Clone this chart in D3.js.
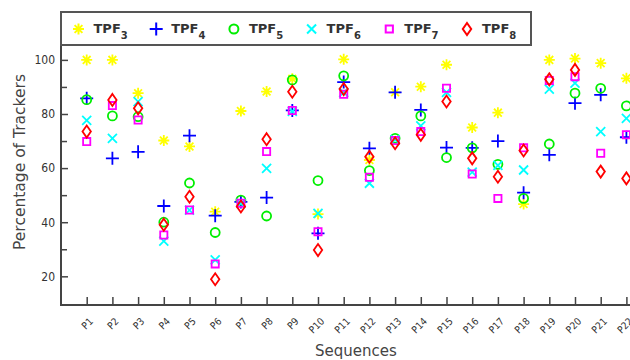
<!DOCTYPE html>
<html><head><meta charset="utf-8">
<script src="https://cdn.jsdelivr.net/npm/d3@7"></script>
<style>body{margin:0;background:#fff}svg{display:block}</style>
</head><body><svg id="c" width="630" height="360"></svg>
<script>
const categories = ["P1","P2","P3","P4","P5","P6","P7","P8","P9","P10","P11","P12","P13","P14","P15","P16","P17","P18","P19","P20","P21","P22"];
const seriesNames = ["3","4","5","6","7","8"];
const TPF3 = [100, 100, 87.7, 70.2, 68.0, 43.9, 81.1, 88.3, 93.0, 43.0, 100.2, 63.0, 88.0, 90.1, 98.2, 75.0, 80.5, 46.7, 100, 100.5, 98.8, 93.2];
const TPF4 = [85.8, 63.6, 66.0, 46.0, 72.0, 42.4, 47.5, 49.1, 81.3, 35.9, 91.8, 67.3, 88.0, 81.5, 67.6, 67.5, 70.0, 50.9, 64.9, 84.0, 87.1, 71.4];
const TPF5 = [85.3, 79.3, 79.0, 40.0, 54.5, 36.2, 48.2, 42.3, 92.6, 55.4, 94.1, 59.1, 71.0, 79.3, 63.9, 67.5, 61.4, 48.8, 68.9, 87.7, 89.5, 83.0];
const TPF6 = [77.6, 71.0, 84.6, 33.0, 44.5, 26.1, 47.0, 59.9, 81.0, 43.3, 88.0, 54.4, 70.5, 75.6, 88.0, 58.5, 61.0, 59.3, 89.2, 91.4, 73.5, 78.4];
const TPF7 = [69.8, 83.1, 77.8, 35.3, 44.5, 24.6, 47.0, 66.1, 81.3, 36.5, 87.3, 56.6, 70.2, 73.5, 89.5, 57.8, 48.8, 67.5, 92.4, 93.8, 65.5, 72.3];
const TPF8 = [73.5, 85.2, 82.1, 39.1, 49.4, 18.9, 45.8, 70.7, 88.2, 29.7, 89.2, 64.2, 69.2, 72.3, 84.6, 63.6, 56.8, 66.5, 92.8, 96.3, 58.7, 56.2];
const yMajorTicks = [20, 40, 60, 80, 100];
const yMinorTicks = [30, 50, 70, 90];

const seriesValues = [TPF3, TPF4, TPF5, TPF6, TPF7, TPF8];
const colors = ["#ffff00", "#0000ff", "#00ee00", "#00ffff", "#ff00ff", "#ff0000"];
const shapes = ["star", "plus", "circle", "cross", "square", "diamond"];

function markerPath(shape) {
  const p = d3.path();
  if (shape === "star") {
    const r = 5.5;
    for (let k = 0; k < 4; k++) {
      const a = k * Math.PI / 4;
      p.moveTo(-r * Math.cos(a), -r * Math.sin(a));
      p.lineTo(r * Math.cos(a), r * Math.sin(a));
    }
  } else if (shape === "plus") {
    const r = 6.5;
    p.moveTo(-r, 0); p.lineTo(r, 0); p.moveTo(0, -r); p.lineTo(0, r);
  } else if (shape === "circle") {
    p.moveTo(4.5, 0); p.arc(0, 0, 4.5, 0, 2 * Math.PI);
  } else if (shape === "cross") {
    const r = 4.5;
    p.moveTo(-r, -r); p.lineTo(r, r); p.moveTo(-r, r); p.lineTo(r, -r);
  } else if (shape === "square") {
    const r = 3.6;
    p.rect(-r, -r, 2 * r, 2 * r);
  } else if (shape === "diamond") {
    p.moveTo(0, -6); p.lineTo(4.2, 0); p.lineTo(0, 6); p.lineTo(-4.2, 0); p.closePath();
  }
  return p.toString();
}

const svg = d3.select("#c");
svg.append("rect").attr("width", 630).attr("height", 360).attr("fill", "#fff");

const mLeft = 61, mBottom = 305, mTop = 45;
const x = d3.scaleLinear().domain([0, 23]).range([mLeft, mLeft + 23 * 25.7]);
const y = d3.scaleLinear().domain([9.4, 105.5]).range([mBottom, mTop]);

// minor y ticks
svg.append("g").attr("transform", `translate(${mLeft},0)`)
  .call(d3.axisLeft(y).tickValues(yMinorTicks).tickSize(-6).tickFormat(""))
  .call(g => g.select(".domain").remove())
  .call(g => g.selectAll("line").attr("stroke", "#444").attr("stroke-width", 1.5));
// major y ticks
const yAx = svg.append("g").attr("transform", `translate(${mLeft},0)`)
  .call(d3.axisLeft(y).tickValues(yMajorTicks).tickSize(-7).tickPadding(6).tickSizeOuter(0));
yAx.select(".domain").remove();
yAx.selectAll("line").attr("stroke", "#444").attr("stroke-width", 1.5);
yAx.selectAll("text").attr("font-family", "DejaVu Sans Condensed, DejaVu Sans").attr("font-size", 12).attr("fill", "#333");

// x axis
const xAx = svg.append("g").attr("transform", `translate(0,${mBottom})`)
  .call(d3.axisBottom(x).tickValues(d3.range(1, categories.length + 1)).tickSize(-8).tickFormat(""));
xAx.select(".domain").remove();
xAx.selectAll("line").attr("stroke", "#444").attr("stroke-width", 1.5);

svg.append("g").selectAll("text").data(categories).join("text")
  .attr("transform", (d, i) => `translate(${x(i + 1) + 7},${mBottom + 17}) rotate(-45)`)
  .attr("text-anchor", "end")
  .attr("font-family", "DejaVu Sans Condensed, DejaVu Sans")
  .attr("font-size", 10).attr("fill", "#333")
  .text(d => d);

// axis lines
svg.append("line").attr("x1", mLeft).attr("x2", mLeft).attr("y1", mTop).attr("y2", mBottom + 1)
  .attr("stroke", "#444").attr("stroke-width", 2);
svg.append("line").attr("x1", mLeft - 1).attr("x2", 640).attr("y1", mBottom).attr("y2", mBottom)
  .attr("stroke", "#444").attr("stroke-width", 2);

// markers
seriesValues.forEach((vals, s) => {
  svg.append("g").selectAll("path").data(vals).join("path")
    .attr("transform", (d, i) => `translate(${x(i + 1)},${y(d)})`)
    .attr("d", markerPath(shapes[s]))
    .attr("fill", "none")
    .attr("stroke", colors[s])
    .attr("stroke-width", 1.8);
});

// axis titles
svg.append("text").attr("x", 356).attr("y", 356).attr("text-anchor", "middle")
  .attr("font-family", "DejaVu Sans").attr("font-size", 15).attr("fill", "#444").text("Sequences");
svg.append("text").attr("transform", `translate(25,162) rotate(-90)`).attr("text-anchor", "middle")
  .attr("font-family", "DejaVu Sans").attr("font-size", 15.5).attr("fill", "#444").text("Percentage of Trackers");

// legend
const lg = svg.append("g");
lg.append("rect").attr("x", 61).attr("y", 12).attr("width", 470).attr("height", 33)
  .attr("fill", "#fff").attr("stroke", "#555").attr("stroke-width", 2);
seriesNames.forEach((n, s) => {
  const cx = 78.5 + s * 77.7;
  lg.append("path").attr("transform", `translate(${cx},29)`).attr("d", markerPath(shapes[s]))
    .attr("fill", "none").attr("stroke", colors[s]).attr("stroke-width", 2);
  const t = lg.append("text").attr("x", cx + 15).attr("y", 33)
    .attr("font-family", "DejaVu Sans").attr("font-weight", "bold").attr("font-size", 13).attr("fill", "#333");
  t.append("tspan").text("TPF");
  t.append("tspan").attr("dy", 6).attr("font-size", 10).text(n);
});
</script></body></html>
